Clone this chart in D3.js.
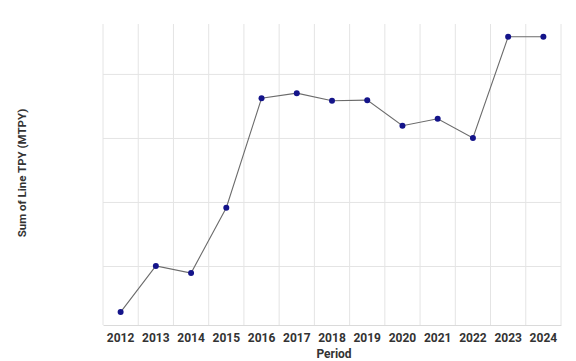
<!DOCTYPE html>
<html><head><meta charset="utf-8">
<script src="https://cdn.jsdelivr.net/npm/d3@7"></script>
<style>
html,body{margin:0;padding:0;background:#fff;}
svg{display:block;font-family:Roboto,"Noto Sans",sans-serif;}
</style></head>
<body>
<svg id="chart" width="576" height="361"></svg>
<script>
const years = ["2012","2013","2014","2015","2016","2017","2018","2019","2020","2021","2022","2023","2024"];
const tpyValues = [2.8, 10.0, 8.9, 19.1, 36.2, 37.0, 35.8, 35.9, 31.9, 33.0, 30.0, 45.8, 45.8];
const yGridValues = [10, 20, 30, 40];
const yTitle = "Sum of Line TPY (MTPY)";
const xTitle = "Period";

(function(){
const svg = d3.select("#chart");
const mLeft = 103, mRight = 561, mTop = 24, mBottom = 325;

const x = d3.scaleBand().domain(years).range([mLeft, mRight]).padding(0);
const y = d3.scaleLinear().domain([0.78, 47.8]).range([mBottom, mTop]);

const gridColor = "#e4e4e4";

// horizontal grid
const gy = svg.append("g").attr("transform", `translate(${mLeft},0)`)
  .call(d3.axisLeft(y).tickValues(yGridValues).tickSize(-(mRight-mLeft)).tickFormat(""));
gy.select(".domain").remove();
gy.selectAll(".tick line").attr("stroke", gridColor).attr("stroke-width", 1);

// vertical grid at band edges
svg.append("g").selectAll("line").data(years)
  .join("line")
  .attr("x1", d => x(d)).attr("x2", d => x(d))
  .attr("y1", mTop).attr("y2", mBottom)
  .attr("stroke", gridColor).attr("stroke-width", 1);
svg.append("line").attr("x1", mRight).attr("x2", mRight).attr("y1", mTop).attr("y2", mBottom)
  .attr("stroke", gridColor);

// x axis
const gx = svg.append("g").attr("transform", `translate(0,${mBottom})`)
  .call(d3.axisBottom(x).tickSize(0).tickPadding(8));
gx.select(".domain").attr("stroke", "#dadada");
gx.selectAll(".tick text")
  .attr("font-size", 12).attr("font-weight", "bold").attr("fill", "#333")
  .attr("font-family", "Roboto, sans-serif");

// line
const data = years.map((yr, i) => ({yr, v: tpyValues[i]}));
const line = d3.line().x(d => x(d.yr) + x.bandwidth()/2).y(d => y(d.v));
svg.append("path").datum(data).attr("d", line)
  .attr("fill", "none").attr("stroke", "#6b6b6b").attr("stroke-width", 1.1);

svg.append("g").selectAll("circle").data(data).join("circle")
  .attr("cx", d => x(d.yr) + x.bandwidth()/2)
  .attr("cy", d => y(d.v))
  .attr("r", 3)
  .attr("fill", "#14148a");

// titles
svg.append("text").attr("x", (mLeft+mRight)/2 + 2).attr("y", 358)
  .attr("text-anchor", "middle").attr("font-size", 12).attr("font-weight", "bold")
  .attr("fill", "#333").text(xTitle);

svg.append("text").attr("transform", "translate(26,173) rotate(-90)")
  .attr("text-anchor", "middle").attr("font-size", 11.5).attr("font-weight", "bold")
  .attr("fill", "#333").text(yTitle);
})();
</script>
</body></html>
